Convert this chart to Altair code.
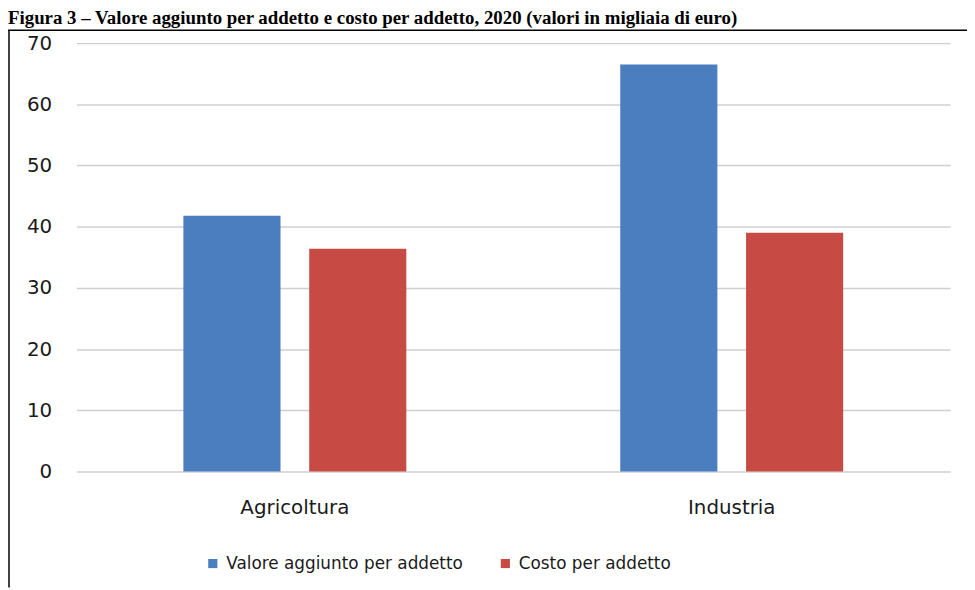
import altair as alt
import pandas as pd

categories = ["Agricoltura", "Industria"]
series = ["Valore aggiunto per addetto", "Costo per addetto"]
valore = [41.8, 66.5]
costo = [36.4, 39.0]
colors = ["#4a7ebf", "#c84a45"]
title_text = "Figura 3 – Valore aggiunto per addetto e costo per addetto, 2020 (valori in migliaia di euro)"

rows = []
for c, v, k in zip(categories, valore, costo):
    rows.append({"cat": c, "serie": series[0], "val": v})
    rows.append({"cat": c, "serie": series[1], "val": k})
df = pd.DataFrame(rows)

FONT = "DejaVu Sans"

bars = alt.Chart(df).mark_bar().encode(
    x=alt.X("cat:N", sort=categories,
            scale=alt.Scale(paddingInner=0.424, paddingOuter=0.212),
            axis=alt.Axis(title=None, labelAngle=0, ticks=False, domain=False,
                          labelFontSize=20, labelFont=FONT, labelColor="#1a1a1a",
                          labelPadding=26, grid=False)),
    xOffset=alt.XOffset("serie:N", sort=series,
                        scale=alt.Scale(paddingInner=0.228, paddingOuter=0.114)),
    y=alt.Y("val:Q", scale=alt.Scale(domain=[0, 70]),
            axis=alt.Axis(title=None, values=list(range(0, 71, 10)), ticks=False,
                          domain=False, labelFontSize=20, labelFont=FONT,
                          labelColor="#1a1a1a", labelPadding=25,
                          gridColor="#cfcfcf", gridWidth=1.5)),
    color=alt.Color("serie:N", sort=series,
                    scale=alt.Scale(domain=series, range=colors),
                    legend=alt.Legend(title=None, orient="none", legendX=129, legendY=516,
                                      direction="horizontal", symbolType="square",
                                      symbolSize=85, labelFontSize=17, labelFont=FONT,
                                      labelColor="#1a1a1a", columnPadding=34,
                                      labelOffset=5, padding=0, symbolStrokeWidth=0,
                                      labelLimit=0)),
)

one = pd.DataFrame({"t": [title_text]})

title = alt.Chart(one).mark_text(
    align="left", baseline="alphabetic", font="Liberation Serif",
    fontWeight="bold", fontSize=19, color="#000000"
).encode(x=alt.value(-69), y=alt.value(-19), text="t:N")

top_border = alt.Chart(one).mark_rule(color="#000000", strokeWidth=1.5).encode(
    x=alt.value(-69), x2=alt.value(898), y=alt.value(-13))
left_border = alt.Chart(one).mark_rule(color="#000000", strokeWidth=1.5).encode(
    x=alt.value(-68), y=alt.value(-13), y2=alt.value(549))

chart = alt.layer(bars, title, top_border, left_border).properties(
    width=881, height=432,
    autosize=alt.AutoSizeParams(type="none"),
    padding={"left": 69, "top": 33, "right": 17, "bottom": 117},
    background="#ffffff",
).configure_view(stroke=None)

chart.save("out.html", embed_options={"renderer": "svg", "actions": False})
